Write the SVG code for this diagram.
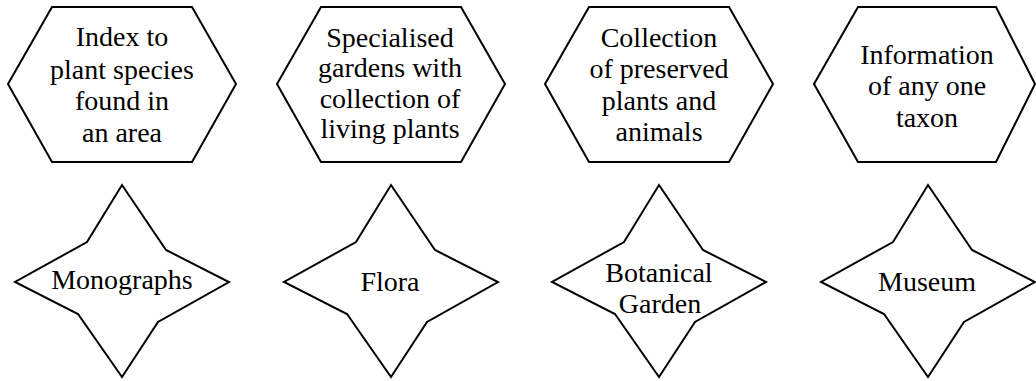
<svg xmlns="http://www.w3.org/2000/svg" width="1036" height="381" viewBox="0 0 1036 381">
<defs>
<polygon id="hexShape" points="-114,84 -70,7 70,7 114,84 70,162 -70,162" fill="#ffffff" stroke="#000000" stroke-width="2"/>
<polygon id="starShape" points="0,185 44,250 107,282 36,322 0,377 -44,314 -107,282 -35,242" fill="#ffffff" stroke="#000000" stroke-width="2"/>
</defs>
<rect x="0" y="0" width="1036" height="381" fill="#ffffff"/>
<g id="connectors"/>
<g id="hex1" font-family="'Liberation Serif', 'Times New Roman', serif" font-size="28" text-anchor="middle" fill="#000000">
<use href="#hexShape" x="122" y="0"/>
<text x="122" y="46">Index to</text>
<text x="122" y="79">plant species</text>
<text x="122" y="110">found in</text>
<text x="122" y="142">an area</text>
</g>
<g id="hex2" font-family="'Liberation Serif', 'Times New Roman', serif" font-size="28" text-anchor="middle" fill="#000000">
<use href="#hexShape" x="391" y="0"/>
<text x="390" y="47">Specialised</text>
<text x="390" y="77">gardens with</text>
<text x="390" y="108">collection of</text>
<text x="390" y="138">living plants</text>
</g>
<g id="hex3" font-family="'Liberation Serif', 'Times New Roman', serif" font-size="28" text-anchor="middle" fill="#000000">
<use href="#hexShape" x="659" y="0"/>
<text x="659" y="47">Collection</text>
<text x="659" y="78">of preserved</text>
<text x="659" y="110">plants and</text>
<text x="659" y="141">animals</text>
</g>
<g id="hex4" font-family="'Liberation Serif', 'Times New Roman', serif" font-size="28" text-anchor="middle" fill="#000000">
<polygon points="814,84 858,7 996,7 1035,84 996,162 858,162" fill="#ffffff" stroke="#000000" stroke-width="2"/>
<text x="927" y="64">Information</text>
<text x="927" y="95">of any one</text>
<text x="927" y="127">taxon</text>
</g>
<g id="star1" font-family="'Liberation Serif', 'Times New Roman', serif" font-size="28" text-anchor="middle" fill="#000000">
<use href="#starShape" x="122" y="0"/>
<text x="122" y="289">Monographs</text>
</g>
<g id="star2" font-family="'Liberation Serif', 'Times New Roman', serif" font-size="28" text-anchor="middle" fill="#000000">
<use href="#starShape" x="391" y="0"/>
<text x="390" y="291">Flora</text>
</g>
<g id="star3" font-family="'Liberation Serif', 'Times New Roman', serif" font-size="28" text-anchor="middle" fill="#000000">
<use href="#starShape" x="659" y="0"/>
<text x="659" y="282">Botanical</text>
<text x="660" y="313">Garden</text>
</g>
<g id="star4" font-family="'Liberation Serif', 'Times New Roman', serif" font-size="28" text-anchor="middle" fill="#000000">
<use href="#starShape" x="928" y="0"/>
<text x="927" y="291">Museum</text>
</g>
</svg>
